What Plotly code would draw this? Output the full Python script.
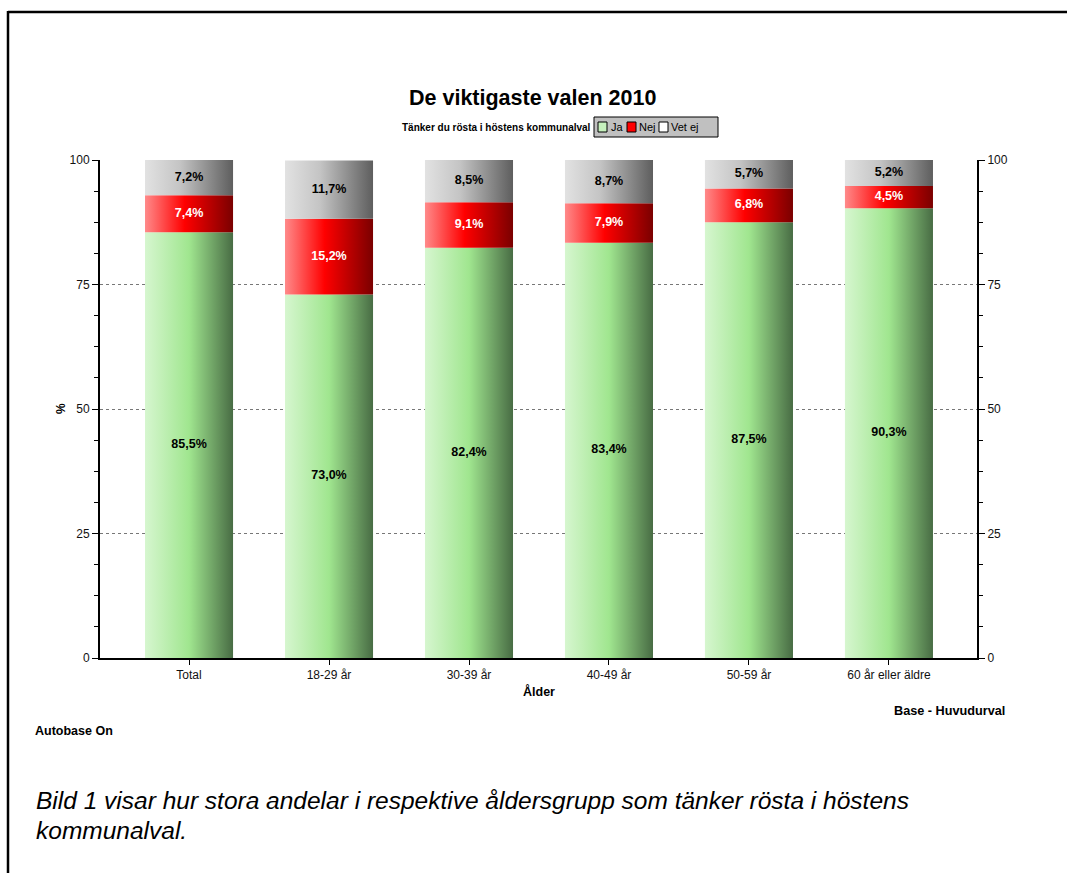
import plotly.graph_objects as go

# ---- data ----
categories = ["Total", "18-29 år", "30-39 år", "40-49 år", "50-59 år", "60 år eller äldre"]
ja = [85.5, 73.0, 82.4, 83.4, 87.5, 90.3]
nej = [7.4, 15.2, 9.1, 7.9, 6.8, 4.5]
vet_ej = [7.2, 11.7, 8.5, 8.7, 5.7, 5.2]
series_names = ["Ja", "Nej", "Vet ej"]
y_ticks = [0, 25, 50, 75, 100]

# ---- styling ----
W, H = 1067, 873
L, R, T, B = 100, 90, 160, 215
FONT = "Liberation Sans, Arial, sans-serif"
BAR_W = 0.629

scales = {
    "Ja": [[0, "#d6f6cf"], [0.5, "#a0e68f"], [1, "#486c44"]],
    "Nej": [[0, "#ff8a8a"], [0.45, "#ff0000"], [1, "#7a0000"]],
    "Vet ej": [[0, "#e2e2e2"], [0.4, "#c4c4c4"], [1, "#5e5e5e"]],
}
text_colors = {"Ja": "black", "Nej": "white", "Vet ej": "black"}


def px_x(p):
    return (p - L) / (W - L - R)


def px_y(p):
    return (H - B - p) / (H - T - B)


def fmt(v):
    return "<b>" + f"{v:.1f}".replace(".", ",") + "%</b>"


fig = go.Figure()

series = {"Ja": ja, "Nej": nej, "Vet ej": vet_ej}
base = [0.0] * len(categories)
for name in series_names:
    vals = series[name]
    mids = []
    for i, v in enumerate(vals):
        b = base[i]
        t = b + v
        x0, x1 = i - BAR_W / 2, i + BAR_W / 2
        fig.add_trace(go.Scatter(
            x=[x0, x1, x1, x0, x0], y=[b, b, t, t, b],
            mode="lines", fill="toself", line=dict(width=0),
            fillgradient=dict(type="horizontal", colorscale=scales[name]),
            hoverinfo="skip", showlegend=False,
        ))
        mids.append(b + v / 2)
        base[i] = t
    fig.add_trace(go.Scatter(
        x=list(range(len(categories))), y=mids, mode="text",
        text=[fmt(v) for v in vals],
        textfont=dict(family=FONT, size=12.5, color=text_colors[name]),
        hoverinfo="skip", showlegend=False, yaxis="y2", cliponaxis=False,
    ))

axis_common = dict(
    range=[0, 100], tickvals=y_ticks, showline=True, linecolor="black", linewidth=2,
    ticks="outside", ticklen=6, tickcolor="black", tickwidth=1,
    tickfont=dict(family=FONT, size=12, color="#111"), zeroline=False,
    minor=dict(dtick=6.25, tick0=0, ticks="outside", ticklen=4, tickcolor="black", showgrid=False),
    fixedrange=True,
)

fig.update_layout(
    width=W, height=H, margin=dict(l=L, r=R, t=T, b=B),
    paper_bgcolor="white", plot_bgcolor="white",
    font=dict(family=FONT, color="black"),
    showlegend=False,
    xaxis=dict(
        range=[-0.636, 5.629], tickvals=list(range(len(categories))), ticktext=categories,
        showline=True, linecolor="black", linewidth=2, ticks="outside", ticklen=5,
        tickcolor="black", showgrid=False, zeroline=False, fixedrange=True,
        tickfont=dict(family=FONT, size=12, color="#111"),
    ),
    yaxis=dict(**axis_common, showgrid=True, gridcolor="#777", griddash="dot", gridwidth=1),
    yaxis2=dict(**axis_common, overlaying="y", side="right", showgrid=False),
)

ann = [
    dict(text="<b>De viktigaste valen 2010</b>", x=px_x(532), y=px_y(98), size=21.5),
    dict(text="<b>Tänker du rösta i höstens kommunalval</b>", x=px_x(496), y=px_y(127), size=10),
    dict(text="<b>Ålder</b>", x=px_x(539), y=px_y(691), size=12.5),
    dict(text="<b>Base - Huvudurval</b>", x=px_x(1007), y=px_y(711), size=12.7, xanchor="right"),
    dict(text="<b>Autobase On</b>", x=px_x(33), y=px_y(731), size=12.5, xanchor="left"),
    dict(text="<i>Bild 1 visar hur stora andelar i respektive åldersgrupp som tänker rösta i höstens</i>",
         x=px_x(34), y=px_y(800), size=24.5, xanchor="left"),
    dict(text="<i>kommunalval.</i>", x=px_x(34), y=px_y(830), size=24.5, xanchor="left"),
    dict(text="Ja", x=px_x(609), y=px_y(127), size=11, xanchor="left"),
    dict(text="Nej", x=px_x(637), y=px_y(127), size=11, xanchor="left"),
    dict(text="Vet ej", x=px_x(669), y=px_y(127), size=11, xanchor="left"),
]
for a in ann:
    fig.add_annotation(
        text=a["text"], x=a["x"], y=a["y"], xref="paper", yref="paper",
        xanchor=a.get("xanchor", "center"), yanchor="middle", showarrow=False,
        font=dict(family=FONT, size=a["size"], color="black"),
    )
fig.add_annotation(
    text="<b>%</b>", x=px_x(70), y=px_y(409), xref="paper", yref="paper",
    xanchor="right", textangle=-90, showarrow=False,
    font=dict(family=FONT, size=12, color="black"),
)

shapes = [
    # page frame
    dict(type="line", x0=px_x(8), x1=px_x(1068), y0=px_y(12), y1=px_y(12), line=dict(color="black", width=2.5)),
    dict(type="line", x0=px_x(8), x1=px_x(8), y0=px_y(11), y1=px_y(874), line=dict(color="black", width=2.5)),
    # legend box
    dict(type="rect", x0=px_x(594), x1=px_x(718), y0=px_y(117), y1=px_y(137),
         fillcolor="#c0c0c0", line=dict(color="black", width=1)),
    dict(type="rect", x0=px_x(598), x1=px_x(607), y0=px_y(122), y1=px_y(132),
         fillcolor="#c6f0bd", line=dict(color="black", width=1)),
    dict(type="rect", x0=px_x(627), x1=px_x(636), y0=px_y(122), y1=px_y(132),
         fillcolor="#ff0000", line=dict(color="black", width=1)),
    dict(type="rect", x0=px_x(659), x1=px_x(668), y0=px_y(122), y1=px_y(132),
         fillcolor="white", line=dict(color="black", width=1)),
]
for s in shapes:
    fig.add_shape(xref="paper", yref="paper", layer="above", **s)

fig.write_html(
    "out.html",
    config={"displayModeBar": False},
    post_script="document.body.style.margin='0';document.body.style.overflow='hidden';",
)
